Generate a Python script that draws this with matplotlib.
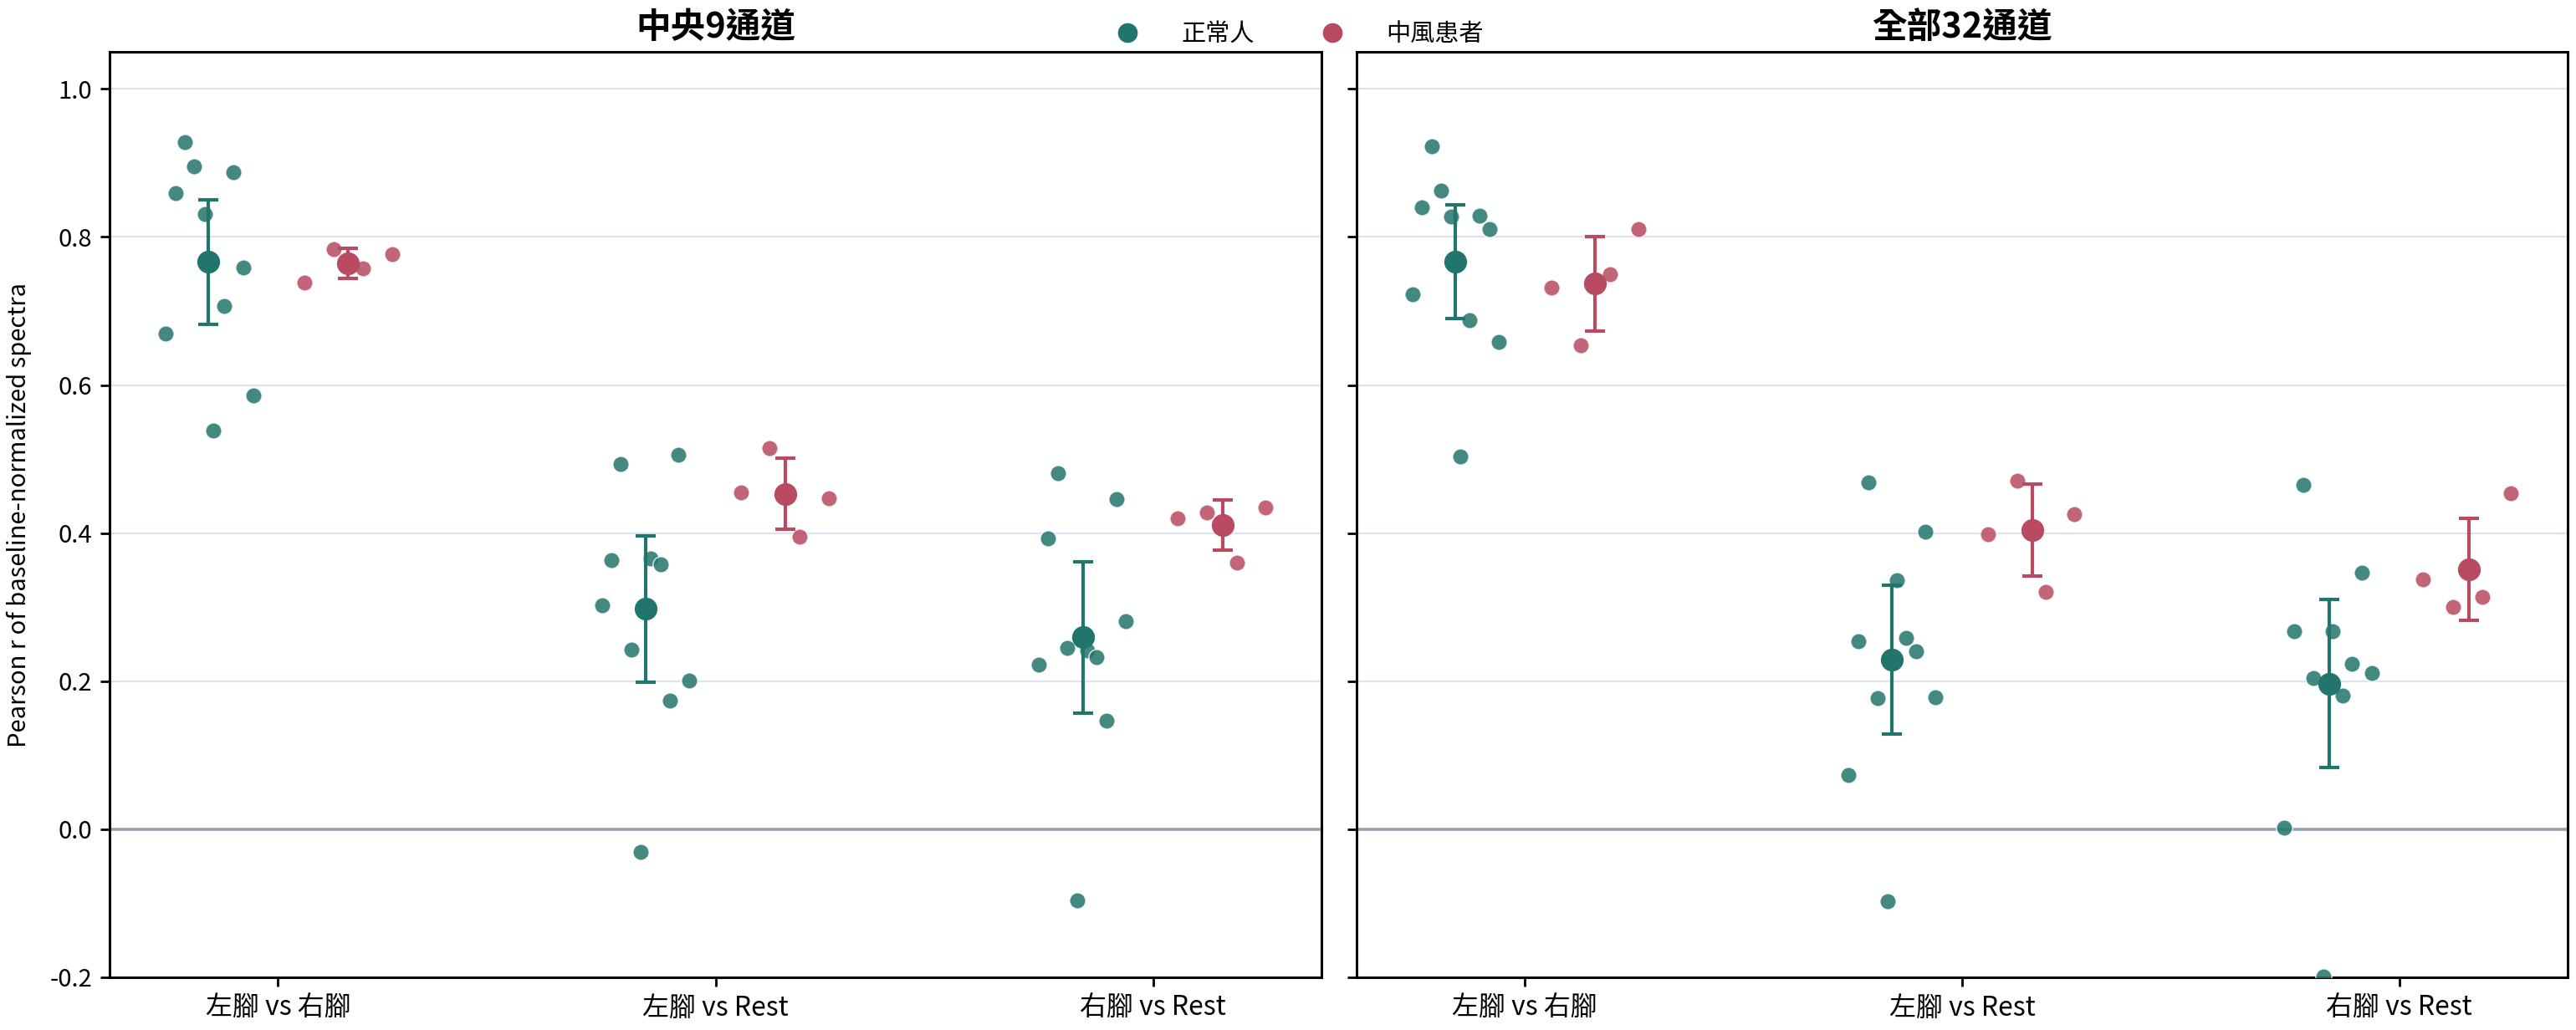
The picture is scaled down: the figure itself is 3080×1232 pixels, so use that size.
import numpy as np
import matplotlib
matplotlib.use("Agg")
import matplotlib.pyplot as plt
from matplotlib.lines import Line2D

plt.rcParams['font.family'] = ['Noto Sans CJK TC', 'DejaVu Sans']

# ---------------- data ----------------
categories = ["左腳 vs 右腳", "左腳 vs Rest", "右腳 vs Rest"]
panel_titles = ["中央9通道", "全部32通道"]
groups = ["正常人", "中風患者"]

# panel 1: 中央9通道
p1_healthy_c0 = [0.928, 0.895, 0.887, 0.859, 0.831, 0.759, 0.707, 0.670, 0.586, 0.539]
p1_healthy_c1 = [0.493, 0.506, 0.363, 0.366, 0.358, 0.302, 0.243, 0.201, 0.174, -0.031]
p1_healthy_c2 = [0.481, 0.446, 0.393, 0.281, 0.245, 0.241, 0.232, 0.222, 0.147, -0.096]
p1_patient_c0 = [0.784, 0.777, 0.757, 0.738]
p1_patient_c1 = [0.455, 0.447, 0.395, 0.515]
p1_patient_c2 = [0.420, 0.428, 0.435, 0.360]

# panel 2: 全部32通道
p2_healthy_c0 = [0.922, 0.863, 0.840, 0.828, 0.829, 0.811, 0.722, 0.688, 0.658, 0.504]
p2_healthy_c1 = [0.468, 0.402, 0.336, 0.258, 0.254, 0.240, 0.177, 0.178, 0.073, -0.097]
p2_healthy_c2 = [0.465, 0.346, 0.267, 0.268, 0.223, 0.211, 0.204, 0.180, 0.002, -0.199]
p2_patient_c0 = [0.811, 0.750, 0.732, 0.654]
p2_patient_c1 = [0.471, 0.399, 0.426, 0.321]
p2_patient_c2 = [0.454, 0.337, 0.314, 0.300]

# horizontal jitter of each point
p1_healthy_j0 = [-0.053, -0.031, 0.057, -0.074, -0.008, 0.080, 0.036, -0.097, 0.103, 0.013]
p1_healthy_j1 = [-0.057, 0.074, -0.078, 0.011, 0.034, -0.099, -0.032, 0.099, 0.055, -0.011]
p1_healthy_j2 = [-0.057, 0.076, -0.080, 0.097, -0.036, 0.010, 0.031, -0.101, 0.053, -0.013]
p1_patient_j0 = [-0.032, 0.101, 0.034, -0.099]
p1_patient_j1 = [-0.101, 0.099, 0.032, -0.036]
p1_patient_j2 = [-0.103, -0.036, 0.097, 0.031]

p2_healthy_j0 = [-0.053, -0.031, -0.076, -0.008, 0.057, 0.080, -0.097, 0.034, 0.101, 0.013]
p2_healthy_j1 = [-0.055, 0.076, 0.010, 0.032, -0.078, 0.055, -0.034, 0.099, -0.101, -0.011]
p2_healthy_j2 = [-0.059, 0.074, -0.080, 0.008, 0.052, 0.097, -0.036, 0.031, -0.103, -0.013]
p2_patient_j0 = [0.099, 0.034, -0.099, -0.032]
p2_patient_j1 = [-0.034, -0.101, 0.097, 0.031]
p2_patient_j2 = [0.095, -0.105, 0.029, -0.038]

panels = [
    {
        "healthy": [p1_healthy_c0, p1_healthy_c1, p1_healthy_c2],
        "patient": [p1_patient_c0, p1_patient_c1, p1_patient_c2],
        "hj": [p1_healthy_j0, p1_healthy_j1, p1_healthy_j2],
        "pj": [p1_patient_j0, p1_patient_j1, p1_patient_j2],
    },
    {
        "healthy": [p2_healthy_c0, p2_healthy_c1, p2_healthy_c2],
        "patient": [p2_patient_c0, p2_patient_c1, p2_patient_c2],
        "hj": [p2_healthy_j0, p2_healthy_j1, p2_healthy_j2],
        "pj": [p2_patient_j0, p2_patient_j1, p2_patient_j2],
    },
]

# ---------------- style ----------------
C_H = "#22756C"
C_P = "#B84A62"
GRID = "#DDE3EE"
ZERO = "#94A3B3"
OFFSET = 0.16

fig = plt.figure(figsize=(15.4, 6.16), dpi=200)
ax1 = fig.add_axes([131/3080, 1 - 1169/1232, 1449/3080, 1107/1232])
ax2 = fig.add_axes([1622/3080, 1 - 1169/1232, 1448/3080, 1107/1232], sharey=ax1)
axes = [ax1, ax2]


def draw_group(ax, xc, vals, jit, color):
    vals = np.asarray(vals, dtype=float)
    jit = np.asarray(jit, dtype=float)
    ax.scatter(xc + jit, vals, s=48, color=color, alpha=0.85,
               edgecolor="white", linewidth=0.5, zorder=3)
    m = vals.mean()
    ci = 1.96 * vals.std(ddof=1) / np.sqrt(len(vals))
    ax.errorbar([xc], [m], yerr=[[ci], [ci]], fmt="o", color=color,
                markersize=8.8, elinewidth=1.5, capsize=4.3, capthick=1.5,
                zorder=4)


for ax, pd, title in zip(axes, panels, panel_titles):
    ax.set_ylim(-0.2, 1.05)
    ax.set_xlim(-0.385, 2.385)
    ax.set_yticks([-0.2, 0.0, 0.2, 0.4, 0.6, 0.8, 1.0])
    for yv in [0.2, 0.4, 0.6, 0.8, 1.0]:
        ax.axhline(yv, color=GRID, linewidth=0.8, zorder=0)
    ax.axhline(0.0, color=ZERO, linewidth=1.3, zorder=1)
    for i in range(len(categories)):
        draw_group(ax, i - OFFSET, pd["healthy"][i], pd["hj"][i], C_H)
        draw_group(ax, i + OFFSET, pd["patient"][i], pd["pj"][i], C_P)
    ax.set_xticks(range(len(categories)))
    ax.set_xticklabels(categories)
    ax.tick_params(axis="both", length=4, width=1.0, color="black")
    ax.tick_params(axis="x", labelsize=11.5)
    ax.tick_params(axis="y", labelsize=10.5)
    for sp in ax.spines.values():
        sp.set_linewidth(1.1)
        sp.set_color("black")
    ax.set_title(title, fontsize=15, fontweight="bold", pad=6)

ax1.yaxis.set_major_formatter(matplotlib.ticker.FuncFormatter(lambda v, p: f"{v:.1f}"))
ax1.set_ylabel("Pearson r of baseline-normalized spectra", fontsize=10.5)
ax1.yaxis.set_label_coords(-0.064, 0.5)
plt.setp(ax2.get_yticklabels(), visible=False)

handles = [
    Line2D([], [], marker="o", linestyle="none", color=C_H, markersize=7.5),
    Line2D([], [], marker="o", linestyle="none", color=C_P, markersize=7.5),
]
fig.legend(handles, groups, loc="upper center", bbox_to_anchor=(0.502, 1.0),
           ncol=2, frameon=False, fontsize=10.5, handletextpad=1.2,
           columnspacing=2.2)

fig.savefig("out.png", dpi=200)
